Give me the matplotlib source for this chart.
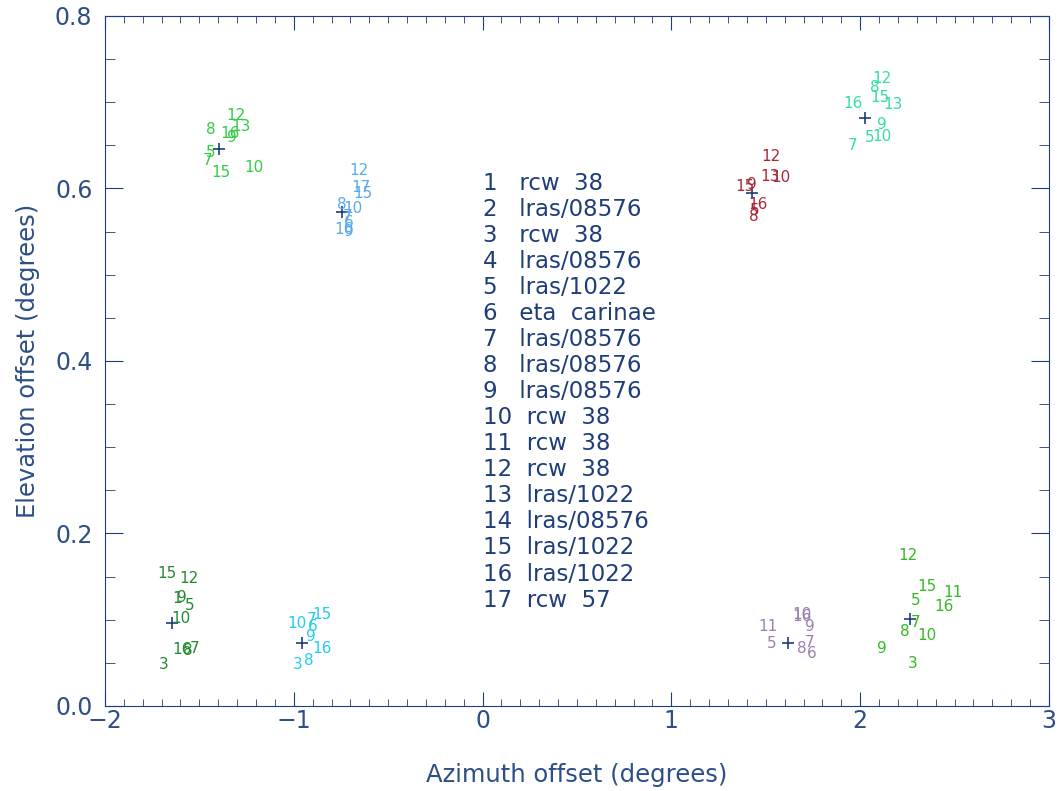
import matplotlib
matplotlib.use('Agg')
import matplotlib.pyplot as plt
from matplotlib.ticker import MultipleLocator

plt.rcParams['font.family'] = ['DejaVu Sans']

axis_color = '#1f3d7a'
text_color = '#2e4f86'

# source list printed in the middle of the plot
sources = ['rcw 38', 'lras/08576', 'rcw 38', 'lras/08576', 'lras/1022',
           'eta carinae', 'lras/08576', 'lras/08576', 'lras/08576', 'rcw 38',
           'rcw 38', 'rcw 38', 'lras/1022', 'lras/08576', 'lras/1022',
           'lras/1022', 'rcw 57']

# one entry per beam cluster: colour, centre (+ marker), label numbers and positions
colors = ['#33cc44', '#5aaaee', '#a82838', '#33dda8',
          '#238a30', '#22ccf0', '#9a80b0', '#33bb22']

centre_x = [-1.396, -0.743, 1.429, 2.024, -1.644, -0.954, 1.620, 2.262]
centre_y = [0.646, 0.573, 0.595, 0.682, 0.096, 0.073, 0.073, 0.101]

labels = [
    ['12', '13', '8', '16', '9', '5', '7', '15', '10'],
    ['12', '17', '15', '8', '10', '7', '6', '16', '9'],
    ['12', '13', '10', '15', '9', '16', '5', '8'],
    ['12', '8', '15', '13', '16', '9', '5', '10', '7'],
    ['15', '12', '1', '9', '5', '10', '16', '8', '7', '3'],
    ['15', '10', '7', '6', '9', '16', '3', '8'],
    ['11', '5', '10', '16', '9', '7', '8', '6'],
    ['12', '15', '11', '5', '16', '7', '8', '10', '9', '3'],
]
label_x = [
    [-1.304, -1.278, -1.438, -1.337, -1.326, -1.438, -1.459, -1.385, -1.210],
    [-0.653, -0.642, -0.632, -0.743, -0.685, -0.717, -0.711, -0.733, -0.706],
    [1.530, 1.520, 1.583, 1.392, 1.425, 1.457, 1.441, 1.435],
    [2.114, 2.077, 2.104, 2.173, 1.961, 2.114, 2.051, 2.114, 1.961],
    [-1.671, -1.554, -1.618, -1.591, -1.550, -1.597, -1.591, -1.559, -1.527, -1.687],
    [-0.849, -0.981, -0.907, -0.902, -0.907, -0.849, -0.981, -0.918],
    [1.509, 1.530, 1.694, 1.694, 1.731, 1.731, 1.689, 1.742],
    [2.252, 2.352, 2.490, 2.294, 2.443, 2.294, 2.236, 2.352, 2.114, 2.278],
]
label_y = [
    [0.685, 0.672, 0.668, 0.664, 0.659, 0.642, 0.633, 0.618, 0.624],
    [0.621, 0.601, 0.594, 0.581, 0.577, 0.567, 0.561, 0.552, 0.550],
    [0.637, 0.614, 0.613, 0.602, 0.605, 0.581, 0.574, 0.568],
    [0.728, 0.717, 0.705, 0.697, 0.699, 0.674, 0.659, 0.660, 0.650],
    [0.154, 0.148, 0.125, 0.126, 0.117, 0.101, 0.066, 0.064, 0.067, 0.048],
    [0.106, 0.096, 0.100, 0.092, 0.081, 0.067, 0.048, 0.053],
    [0.092, 0.073, 0.106, 0.104, 0.092, 0.074, 0.067, 0.061],
    [0.175, 0.138, 0.131, 0.122, 0.115, 0.097, 0.086, 0.082, 0.067, 0.049],
]

fig = plt.figure(figsize=(10.6, 7.91), dpi=100)
ax = fig.add_axes([0.099, 0.1075, 0.8906, 0.8723])

for c in range(len(colors)):
    for lab, lx, ly in zip(labels[c], label_x[c], label_y[c]):
        ax.text(lx, ly, lab, color=colors[c], fontsize=11,
                ha='center', va='center')
    ax.plot(centre_x[c], centre_y[c], marker='+', color=axis_color,
            markersize=9, markeredgewidth=1.2, linestyle='none')

# source list (wide spacing like the IDL vector font)
for i, name in enumerate(sources):
    num = str(i + 1)
    gap = '   ' if len(num) == 1 else '  '
    line = num + gap + name.replace(' ', '  ')
    ax.text(0.0, 0.606 - i * 0.0302, line,
            color=axis_color, fontsize=16.5, ha='left', va='center')

ax.set_xlim(-2, 3)
ax.set_ylim(0, 0.8)
ax.xaxis.set_major_locator(MultipleLocator(1))
ax.xaxis.set_minor_locator(MultipleLocator(0.1))
ax.yaxis.set_major_locator(MultipleLocator(0.2))
ax.yaxis.set_minor_locator(MultipleLocator(0.05))
ax.yaxis.set_major_formatter(plt.FormatStrFormatter('%.1f'))

ax.tick_params(which='both', direction='in', top=True, right=True,
               color=axis_color, labelcolor=text_color, labelsize=17)
ax.tick_params(axis='x', which='major', length=10, pad=2)
ax.tick_params(axis='x', which='minor', length=5)
ax.tick_params(axis='y', which='major', length=13, pad=9)
ax.tick_params(axis='y', which='minor', length=7)
for s in ax.spines.values():
    s.set_color(axis_color)

ax.set_xlabel('Azimuth offset (degrees)', color=text_color, fontsize=17.5, labelpad=22)
ax.set_ylabel('Elevation offset (degrees)', color=text_color, fontsize=17.5, labelpad=11)

fig.savefig('out.png', dpi=100)
